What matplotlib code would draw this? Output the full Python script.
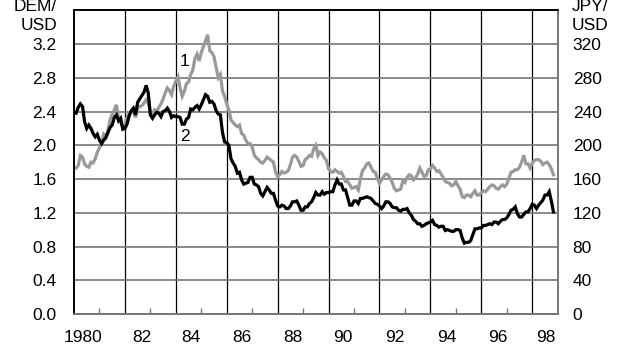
import numpy as np
import matplotlib
matplotlib.use('Agg')
import matplotlib.pyplot as plt
import matplotlib.transforms as mtransforms

# Monthly data, Jan 1980 - Oct 1998
dem_usd = [
    1.73, 1.76, 1.88, 1.86, 1.78, 1.75, 1.74, 1.80, 1.79, 1.84, 1.92, 1.97,  # 1980
    2.03, 2.13, 2.10, 2.18, 2.30, 2.37, 2.42, 2.48, 2.32, 2.27, 2.21, 2.25,  # 1981
    2.33, 2.38, 2.40, 2.40, 2.33, 2.44, 2.46, 2.47, 2.50, 2.54, 2.50, 2.40,  # 1982
    2.38, 2.42, 2.40, 2.45, 2.49, 2.55, 2.62, 2.68, 2.65, 2.60, 2.70, 2.76,  # 1983
    2.81, 2.68, 2.58, 2.64, 2.73, 2.75, 2.84, 2.89, 3.03, 3.08, 3.00, 3.10,  # 1984
    3.17, 3.24, 3.31, 3.12, 3.10, 3.05, 2.92, 2.80, 2.84, 2.64, 2.58, 2.49,  # 1985
    2.42, 2.30, 2.27, 2.24, 2.22, 2.24, 2.14, 2.12, 2.06, 2.02, 2.02, 1.98,  # 1986
    1.88, 1.85, 1.83, 1.80, 1.79, 1.82, 1.86, 1.84, 1.82, 1.80, 1.68, 1.63,  # 1987
    1.65, 1.69, 1.67, 1.68, 1.70, 1.77, 1.86, 1.88, 1.86, 1.81, 1.75, 1.76,  # 1988
    1.83, 1.85, 1.88, 1.87, 1.96, 2.00, 1.88, 1.92, 1.90, 1.85, 1.82, 1.72,  # 1989
    1.69, 1.68, 1.71, 1.69, 1.67, 1.68, 1.63, 1.57, 1.57, 1.53, 1.49, 1.50,  # 1990
    1.51, 1.47, 1.60, 1.70, 1.73, 1.78, 1.79, 1.74, 1.69, 1.68, 1.61, 1.55,  # 1991
    1.59, 1.63, 1.66, 1.65, 1.61, 1.56, 1.49, 1.46, 1.47, 1.48, 1.58, 1.56,  # 1992
    1.62, 1.65, 1.64, 1.59, 1.61, 1.66, 1.73, 1.68, 1.63, 1.64, 1.71, 1.72,  # 1993
    1.76, 1.73, 1.69, 1.70, 1.66, 1.62, 1.57, 1.56, 1.55, 1.52, 1.53, 1.57,  # 1994
    1.52, 1.48, 1.39, 1.38, 1.41, 1.41, 1.39, 1.43, 1.46, 1.41, 1.41, 1.44,  # 1995
    1.46, 1.45, 1.48, 1.51, 1.53, 1.52, 1.49, 1.48, 1.51, 1.53, 1.51, 1.54,  # 1996
    1.61, 1.68, 1.69, 1.71, 1.71, 1.74, 1.80, 1.88, 1.78, 1.78, 1.73, 1.79,  # 1997
    1.82, 1.83, 1.83, 1.81, 1.77, 1.79, 1.80, 1.77, 1.72, 1.65,              # 1998
]

jpy_usd = [
    238, 245, 249, 246, 228, 220, 224, 220, 214, 210, 213, 206,  # 1980
    202, 206, 209, 215, 221, 224, 233, 236, 229, 232, 219, 220,  # 1981
    225, 235, 241, 244, 236, 251, 255, 259, 263, 271, 262, 236,  # 1982
    232, 236, 239, 238, 234, 240, 241, 244, 240, 233, 235, 234,  # 1983
    234, 233, 225, 225, 231, 233, 243, 242, 245, 247, 243, 248,  # 1984
    254, 260, 258, 251, 252, 249, 241, 237, 236, 215, 204, 203,  # 1985
    200, 184, 179, 175, 167, 168, 159, 154, 155, 156, 162, 162,  # 1986
    154, 153, 151, 143, 140, 145, 150, 147, 143, 143, 135, 128,  # 1987
    127, 129, 128, 125, 125, 128, 133, 133, 134, 129, 123, 123,  # 1988
    127, 127, 131, 133, 138, 144, 141, 141, 145, 142, 144, 144,  # 1989
    145, 145, 153, 159, 154, 154, 147, 147, 138, 129, 129, 134,  # 1990
    134, 131, 137, 137, 138, 139, 138, 137, 134, 131, 130, 128,  # 1991
    125, 128, 133, 133, 131, 127, 126, 126, 123, 122, 124, 124,  # 1992
    125, 120, 117, 112, 110, 107, 107, 104, 105, 107, 108, 109,  # 1993
    111, 106, 105, 103, 104, 104, 99, 100, 99, 98, 98, 100,      # 1994
    100, 99, 90, 84, 85, 85, 87, 94, 101, 101, 102, 102,         # 1995
    105, 105, 106, 107, 106, 109, 109, 107, 110, 112, 112, 114,  # 1996
    118, 123, 124, 127, 119, 115, 115, 118, 121, 121, 125, 130,  # 1997
    129, 125, 129, 132, 135, 141, 141, 145, 134, 121,            # 1998
]

x_labels = ['1980', '82', '84', '86', '88', '90', '92', '94', '96', '98']
x_label_pos = [1980.35, 1982.65, 1984.6, 1986.6, 1988.6, 1990.55, 1992.6, 1994.65, 1996.65, 1998.55]
left_ticks = [0.0, 0.4, 0.8, 1.2, 1.6, 2.0, 2.4, 2.8, 3.2]
right_ticks = [0, 40, 80, 120, 160, 200, 240, 280, 320]

plt.rcParams['font.family'] = ['Liberation Sans', 'DejaVu Sans']
fs = 12.5

t = 1980 + (np.arange(len(dem_usd)) + 1) / 12.0

fig = plt.figure(figsize=(6.23, 3.46), dpi=100)
ax = fig.add_axes([74 / 623, 32 / 346, (557.7 - 74) / 623, (314 - 10.3) / 346])
ax2 = ax.twinx()

ax.plot(t, dem_usd, color='#999999', lw=2.3, solid_joinstyle='miter')
ax2.plot(t, np.array(jpy_usd), color='black', lw=2.3, solid_joinstyle='miter')

ax.set_xlim(1980, 1999)
ax.set_ylim(0, 3.6)
ax2.set_ylim(0, 360)

# grid
ax.set_xticks(range(1982, 1999, 2))
ax.set_xticks(range(1981, 1998, 2), minor=True)
ax.tick_params(axis='x', which='major', length=0, labelbottom=False)
ax.tick_params(axis='x', which='minor', direction='in', length=4, width=1, color='#777777')
ax.grid(axis='x', which='major', color='black', lw=0.9)
ax.set_yticks(left_ticks)
ax.set_yticklabels(['%.1f' % v for v in left_ticks])
ax.grid(axis='y', color='#777777', lw=1.2)
ax.set_axisbelow(True)
ax.tick_params(axis='y', length=0, pad=12.5, labelsize=fs)

ax2.set_yticks(right_ticks)
ax2.tick_params(axis='y', length=0, pad=10.8, labelsize=fs)

for a in (ax, ax2):
    a.spines['left'].set_color('black')
    a.spines['top'].set_color('black')
    a.spines['bottom'].set_color('#777777')
    a.spines['right'].set_color('#777777')
    for s in a.spines.values():
        s.set_linewidth(1.2)

trans = mtransforms.blended_transform_factory(ax.transData, fig.transFigure)
for lab, xp in zip(x_labels, x_label_pos):
    ax.text(xp, 1 - 341.7 / 346, lab, transform=trans, ha='center', va='baseline', fontsize=fs)

fig.text(57 / 623, 1 - 29.5 / 346, 'DEM/\nUSD', ha='right', va='baseline', fontsize=fs, linespacing=1.3)
fig.text(572 / 623, 1 - 29.5 / 346, 'JPY/\nUSD', ha='left', va='baseline', fontsize=fs, linespacing=1.3)

ax.text(1984.35, 2.99, '1', ha='center', va='center', fontsize=fs)
ax.text(1984.37, 2.10, '2', ha='center', va='center', fontsize=fs)

fig.savefig('out.png', dpi=100)
